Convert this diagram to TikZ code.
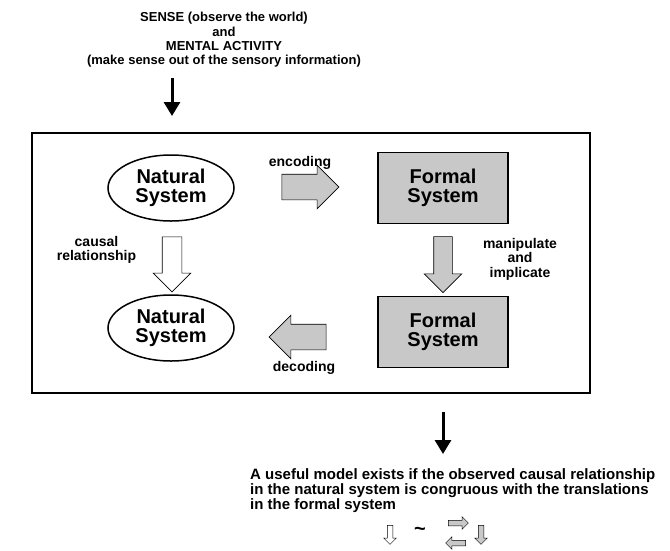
\documentclass[tikz,border=0pt]{standalone}
\usepackage{fontspec}
\setmainfont{Liberation Sans}
\usetikzlibrary{arrows.meta,positioning,shapes.geometric,shapes.arrows,calc}
\definecolor{boxgray}{HTML}{C8C8C8}

\begin{document}
\begin{tikzpicture}[
    x=1pt,y=-1pt,
    natsys/.style={draw,ellipse,line width=1.5pt,minimum width=126pt,minimum height=66pt,align=center,font=\fontsize{20}{19}\selectfont\bfseries},
    formsys/.style={draw,fill=boxgray,line width=1.5pt,minimum width=130pt,minimum height=71pt,align=center,font=\fontsize{20}{19}\selectfont\bfseries},
    lbl/.style={align=center,inner sep=0pt,font=\fontsize{14}{14.5}\selectfont\bfseries},
    bigarr/.style={single arrow,draw,line width=0.6pt,inner xsep=0pt,single arrow tip angle=90},
    smallarr/.style={single arrow,draw,line width=0.5pt,inner xsep=0pt,inner ysep=2.5pt,single arrow head extend=3.5pt,single arrow tip angle=90,minimum height=19pt},
    blk/.style={-{Triangle[width=16pt,length=14pt]},line width=3pt}
]
    \useasboundingbox (0,0) rectangle (670,550);

    \node[lbl,font=\fontsize{13}{14.3}\selectfont\bfseries] (sense) at (224,40) {SENSE (observe the world)\\and\\MENTAL ACTIVITY\\(make sense out of the sensory information)};
    \coordinate (inTop) at (172,78);
    \coordinate (inEnd) at (172,116);
    \draw[blk] (inTop) -- (inEnd);

    \node[draw,line width=1.5pt,minimum width=558pt,minimum height=260pt] (frame) at (311,263) {};

    \node[natsys] (nat1) at (171,188) {Natural\\System};
    \node[formsys] (form1) at (443,188) {Formal\\System};
    \node[natsys] (nat2) at (171,328) {Natural\\System};
    \node[formsys] (form2) at (443,332) {Formal\\System};

    \node[bigarr,fill=boxgray,inner ysep=12.5pt,single arrow head extend=9pt,minimum height=57pt] (encode) at (304,187) {};
    \node[bigarr,fill=boxgray,inner ysep=12.5pt,single arrow head extend=9pt,minimum height=57pt,rotate=180] (decode) at (304,337) {};
    \node[bigarr,fill=white,inner ysep=9.5pt,single arrow head extend=9pt,minimum height=55pt,rotate=-90] (causal) at (172,259.5) {};
    \node[bigarr,fill=boxgray,inner ysep=9pt,single arrow head extend=9.5pt,minimum height=56pt,rotate=-90] (manip) at (443,260) {};

    \node[lbl] (encLbl) at (300,163) {encoding};
    \node[lbl] (decLbl) at (304,368) {decoding};
    \node[lbl] (causLbl) at (96.5,250) {causal\\relationship};
    \node[lbl] (manLbl) at (520,259) {manipulate\\and\\implicate};

    \coordinate (outTop) at (443,412);
    \coordinate (outEnd) at (443,454);
    \draw[blk] (outTop) -- (outEnd);

    \node[lbl,align=left,anchor=north west,font=\fontsize{15}{15}\selectfont\bfseries] (model) at (250,468) {A useful model exists if the observed causal relationship\\in the natural system is congruous with the translations\\in the formal system};

    \node[smallarr,fill=white,rotate=-90] (natSym) at (390,533.5) {};
    \node[lbl,font=\fontsize{20}{20}\selectfont\bfseries] (tilde) at (420,531) {\textasciitilde};
    \node[smallarr,fill=boxgray,minimum height=20pt] (encSym) at (457,523) {};
    \node[smallarr,fill=boxgray,minimum height=20pt,rotate=180] (decSym) at (457,543) {};
    \node[smallarr,fill=boxgray,rotate=-90] (manSym) at (481,533.5) {};
\end{tikzpicture}
\end{document}
